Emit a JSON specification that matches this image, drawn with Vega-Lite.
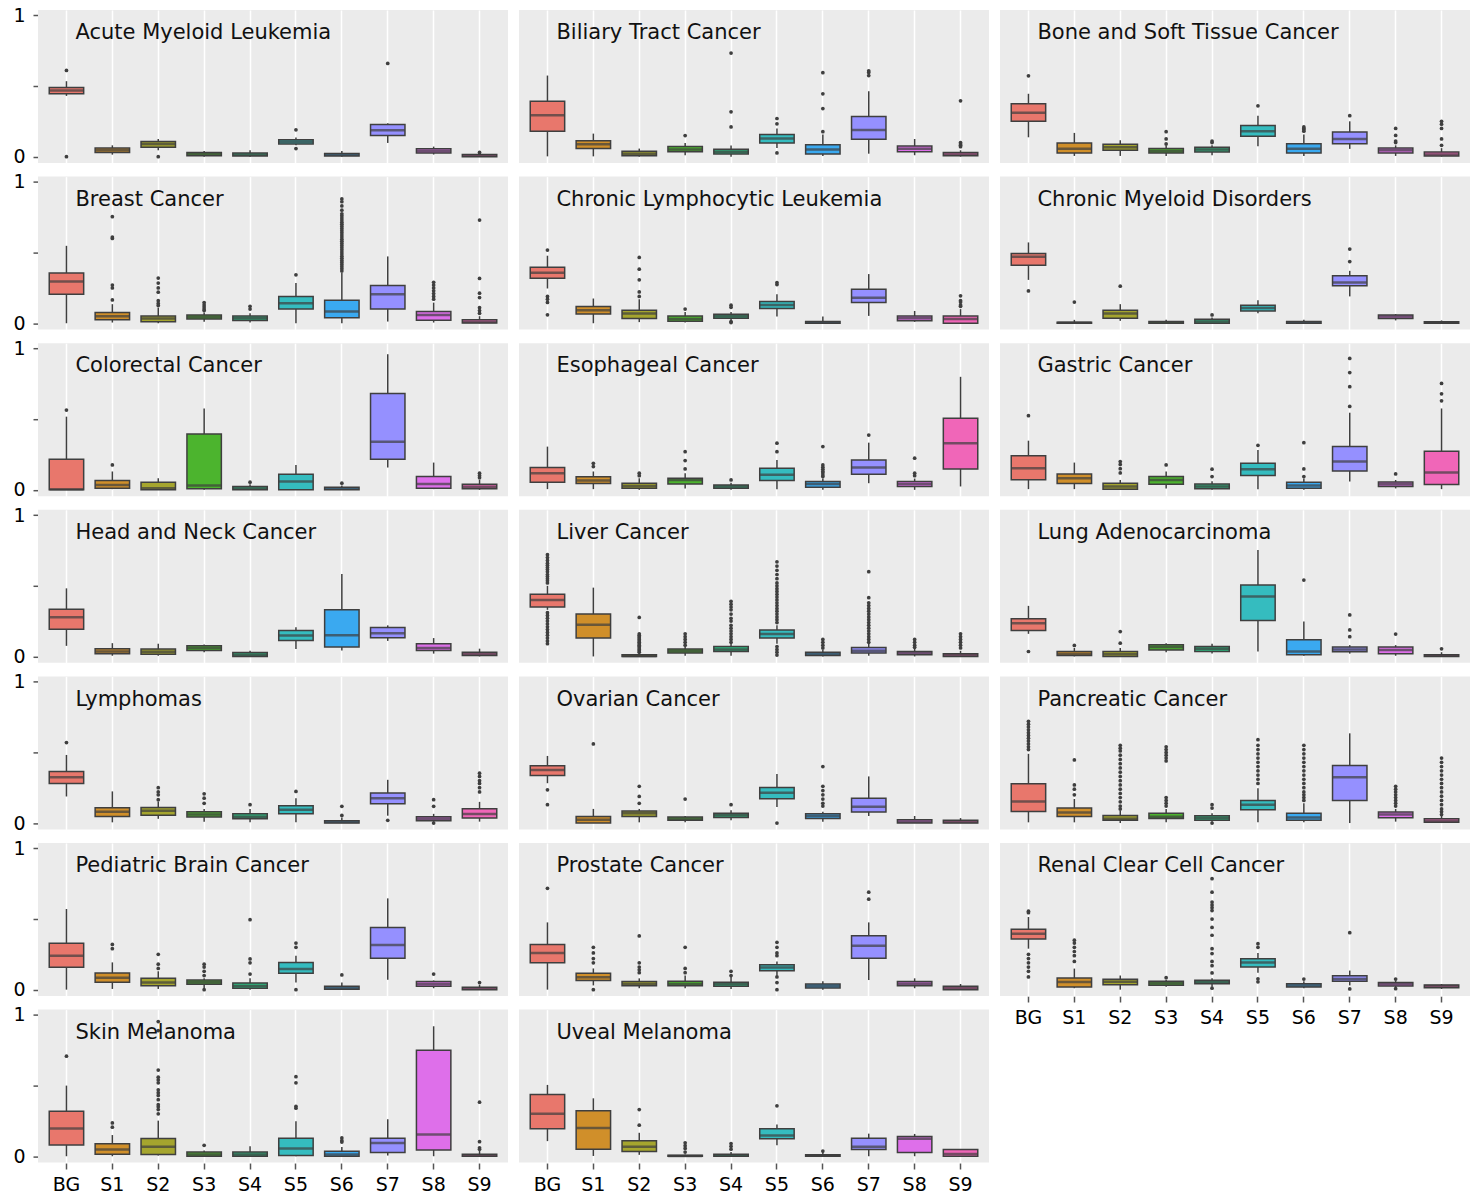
{
"$schema": "https://vega.github.io/schema/vega-lite/v6.json",
"padding": {"left": 12, "top": 6, "right": 4, "bottom": 4},
"config": {"font": "DejaVu Sans", "view": {"fill": "#EBEBEB", "stroke": null}},
"datasets": {
"names": [
{"c":"AML","n":"Acute Myeloid Leukemia"},{"c":"BTC","n":"Biliary Tract Cancer"},{"c":"BST","n":"Bone and Soft Tissue Cancer"},
{"c":"BRC","n":"Breast Cancer"},{"c":"CLL","n":"Chronic Lymphocytic Leukemia"},{"c":"CMD","n":"Chronic Myeloid Disorders"},
{"c":"CRC","n":"Colorectal Cancer"},{"c":"ESO","n":"Esophageal Cancer"},{"c":"GAS","n":"Gastric Cancer"},
{"c":"HNC","n":"Head and Neck Cancer"},{"c":"LIV","n":"Liver Cancer"},{"c":"LUA","n":"Lung Adenocarcinoma"},
{"c":"LYM","n":"Lymphomas"},{"c":"OV","n":"Ovarian Cancer"},{"c":"PAN","n":"Pancreatic Cancer"},
{"c":"PBC","n":"Pediatric Brain Cancer"},{"c":"PRO","n":"Prostate Cancer"},{"c":"RCC","n":"Renal Clear Cell Cancer"},
{"c":"SKM","n":"Skin Melanoma"},{"c":"UVM","n":"Uveal Melanoma"}
],
"main": [
{"c":"AML","g":"BG","lo":0.43,"q1":0.445,"md":0.468,"q3":0.49,"hi":0.534},
{"c":"AML","g":"S1","lo":0.014,"q1":0.03,"md":0.045,"q3":0.062,"hi":0.08},
{"c":"AML","g":"S2","lo":0.045,"q1":0.066,"md":0.09,"q3":0.108,"hi":0.125},
{"c":"AML","g":"S3","lo":0,"q1":0.007,"md":0.018,"q3":0.03,"hi":0.04},
{"c":"AML","g":"S4","lo":0,"q1":0.005,"md":0.013,"q3":0.026,"hi":0.045},
{"c":"AML","g":"S5","lo":0.08,"q1":0.09,"md":0.105,"q3":0.12,"hi":0.135},
{"c":"AML","g":"S6","lo":0,"q1":0.005,"md":0.014,"q3":0.023,"hi":0.04},
{"c":"AML","g":"S7","lo":0.097,"q1":0.149,"md":0.187,"q3":0.227,"hi":0.236},
{"c":"AML","g":"S8","lo":0.015,"q1":0.026,"md":0.04,"q3":0.055,"hi":0.071},
{"c":"AML","g":"S9","lo":0,"q1":0,"md":0.006,"q3":0.016,"hi":0.025},
{"c":"AML","g":"BG","v":0.61},{"c":"AML","g":"BG","v":0},{"c":"AML","g":"S2","v":0},{"c":"AML","g":"S5","v":0.19},{"c":"AML","g":"S5","v":0.057},{"c":"AML","g":"S7","v":0.66},{"c":"AML","g":"S9","v":0.03},

{"c":"BTC","g":"BG","lo":0.002,"q1":0.18,"md":0.293,"q3":0.392,"hi":0.574},
{"c":"BTC","g":"S1","lo":0.002,"q1":0.057,"md":0.087,"q3":0.113,"hi":0.163},
{"c":"BTC","g":"S2","lo":0,"q1":0.007,"md":0.02,"q3":0.038,"hi":0.057},
{"c":"BTC","g":"S3","lo":0.01,"q1":0.035,"md":0.05,"q3":0.071,"hi":0.097},
{"c":"BTC","g":"S4","lo":0,"q1":0.019,"md":0.035,"q3":0.052,"hi":0.078},
{"c":"BTC","g":"S5","lo":0.062,"q1":0.097,"md":0.128,"q3":0.156,"hi":0.2},
{"c":"BTC","g":"S6","lo":0.005,"q1":0.019,"md":0.05,"q3":0.085,"hi":0.156},
{"c":"BTC","g":"S7","lo":0.021,"q1":0.123,"md":0.189,"q3":0.284,"hi":0.463},
{"c":"BTC","g":"S8","lo":0.01,"q1":0.035,"md":0.055,"q3":0.076,"hi":0.125},
{"c":"BTC","g":"S9","lo":0,"q1":0.007,"md":0.015,"q3":0.03,"hi":0.045},
{"c":"BTC","g":"S3","v":0.149},{"c":"BTC","g":"S4","v":0.733},{"c":"BTC","g":"S4","v":0.317},{"c":"BTC","g":"S4","v":0.21},
{"c":"BTC","g":"S5","v":0.27},{"c":"BTC","g":"S5","v":0.232},{"c":"BTC","g":"S5","v":0.026},
{"c":"BTC","g":"S6","v":0.594},{"c":"BTC","g":"S6","v":0.445},{"c":"BTC","g":"S6","v":0.34},{"c":"BTC","g":"S6","v":0.177},
{"c":"BTC","g":"S7","v":0.608},{"c":"BTC","g":"S7","v":0.596},{"c":"BTC","g":"S7","v":0.574},
{"c":"BTC","g":"S9","v":0.395},{"c":"BTC","g":"S9","v":0.1},{"c":"BTC","g":"S9","v":0.09},{"c":"BTC","g":"S9","v":0.08},{"c":"BTC","g":"S9","v":0.07},

{"c":"BST","g":"BG","lo":0.137,"q1":0.25,"md":0.31,"q3":0.374,"hi":0.445},
{"c":"BST","g":"S1","lo":0.005,"q1":0.026,"md":0.055,"q3":0.097,"hi":0.168},
{"c":"BST","g":"S2","lo":0.005,"q1":0.045,"md":0.066,"q3":0.087,"hi":0.116},
{"c":"BST","g":"S3","lo":0.005,"q1":0.026,"md":0.04,"q3":0.057,"hi":0.08},
{"c":"BST","g":"S4","lo":0.01,"q1":0.033,"md":0.05,"q3":0.066,"hi":0.08},
{"c":"BST","g":"S5","lo":0.073,"q1":0.144,"md":0.18,"q3":0.22,"hi":0.29},
{"c":"BST","g":"S6","lo":0.005,"q1":0.026,"md":0.055,"q3":0.092,"hi":0.156},
{"c":"BST","g":"S7","lo":0.055,"q1":0.092,"md":0.125,"q3":0.175,"hi":0.25},
{"c":"BST","g":"S8","lo":0.005,"q1":0.026,"md":0.045,"q3":0.062,"hi":0.08},
{"c":"BST","g":"S9","lo":0,"q1":0.005,"md":0.015,"q3":0.033,"hi":0.06},
{"c":"BST","g":"BG","v":0.572},{"c":"BST","g":"S3","v":0.177},{"c":"BST","g":"S3","v":0.125},{"c":"BST","g":"S3","v":0.09},
{"c":"BST","g":"S4","v":0.11},{"c":"BST","g":"S4","v":0.1},{"c":"BST","g":"S5","v":0.36},
{"c":"BST","g":"S6","v":0.21},{"c":"BST","g":"S6","v":0.2},{"c":"BST","g":"S6","v":0.19},{"c":"BST","g":"S6","v":0.18},
{"c":"BST","g":"S7","v":0.29},{"c":"BST","g":"S8","v":0.2},{"c":"BST","g":"S8","v":0.15},{"c":"BST","g":"S8","v":0.11},{"c":"BST","g":"S8","v":0.1},
{"c":"BST","g":"S9","v":0.25},{"c":"BST","g":"S9","v":0.23},{"c":"BST","g":"S9","v":0.2},{"c":"BST","g":"S9","v":0.125},{"c":"BST","g":"S9","v":0.08},

{"c":"BRC","g":"BG","lo":0,"q1":0.206,"md":0.296,"q3":0.355,"hi":0.548},
{"c":"BRC","g":"S1","lo":0.005,"q1":0.024,"md":0.05,"q3":0.076,"hi":0.135},
{"c":"BRC","g":"S2","lo":0,"q1":0.01,"md":0.033,"q3":0.052,"hi":0.11},
{"c":"BRC","g":"S3","lo":0.01,"q1":0.03,"md":0.045,"q3":0.059,"hi":0.076},
{"c":"BRC","g":"S4","lo":0.005,"q1":0.019,"md":0.035,"q3":0.052,"hi":0.07},
{"c":"BRC","g":"S5","lo":0,"q1":0.1,"md":0.142,"q3":0.19,"hi":0.284},
{"c":"BRC","g":"S6","lo":0,"q1":0.038,"md":0.083,"q3":0.163,"hi":0.36},
{"c":"BRC","g":"S7","lo":0.012,"q1":0.1,"md":0.206,"q3":0.267,"hi":0.473},
{"c":"BRC","g":"S8","lo":0.005,"q1":0.021,"md":0.059,"q3":0.083,"hi":0.146},
{"c":"BRC","g":"S9","lo":0,"q1":0.002,"md":0.008,"q3":0.024,"hi":0.05},
{"c":"BRC","g":"S1","v":0.754},{"c":"BRC","g":"S1","v":0.61},{"c":"BRC","g":"S1","v":0.6},{"c":"BRC","g":"S1","v":0.27},{"c":"BRC","g":"S1","v":0.25},{"c":"BRC","g":"S1","v":0.165},
{"c":"BRC","g":"S2","v":0.32},{"c":"BRC","g":"S2","v":0.284},{"c":"BRC","g":"S2","v":0.25},{"c":"BRC","g":"S2","v":0.22},{"c":"BRC","g":"S2","v":0.16},{"c":"BRC","g":"S2","v":0.14},{"c":"BRC","g":"S2","v":0.125},
{"c":"BRC","g":"S3","v":0.146},{"c":"BRC","g":"S3","v":0.13},{"c":"BRC","g":"S3","v":0.115},{"c":"BRC","g":"S3","v":0.1},{"c":"BRC","g":"S3","v":0.09},
{"c":"BRC","g":"S4","v":0.12},{"c":"BRC","g":"S4","v":0.1},{"c":"BRC","g":"S5","v":0.343},
{"c":"BRC","g":"S6","v":0.37},{"c":"BRC","g":"S6","v":0.385},{"c":"BRC","g":"S6","v":0.4},{"c":"BRC","g":"S6","v":0.415},{"c":"BRC","g":"S6","v":0.43},{"c":"BRC","g":"S6","v":0.445},{"c":"BRC","g":"S6","v":0.46},{"c":"BRC","g":"S6","v":0.475},{"c":"BRC","g":"S6","v":0.49},{"c":"BRC","g":"S6","v":0.505},{"c":"BRC","g":"S6","v":0.52},{"c":"BRC","g":"S6","v":0.535},{"c":"BRC","g":"S6","v":0.55},{"c":"BRC","g":"S6","v":0.565},{"c":"BRC","g":"S6","v":0.58},{"c":"BRC","g":"S6","v":0.595},{"c":"BRC","g":"S6","v":0.61},{"c":"BRC","g":"S6","v":0.625},{"c":"BRC","g":"S6","v":0.64},{"c":"BRC","g":"S6","v":0.655},{"c":"BRC","g":"S6","v":0.67},{"c":"BRC","g":"S6","v":0.685},{"c":"BRC","g":"S6","v":0.7},{"c":"BRC","g":"S6","v":0.715},{"c":"BRC","g":"S6","v":0.73},{"c":"BRC","g":"S6","v":0.745},{"c":"BRC","g":"S6","v":0.76},{"c":"BRC","g":"S6","v":0.775},{"c":"BRC","g":"S6","v":0.8},{"c":"BRC","g":"S6","v":0.83},{"c":"BRC","g":"S6","v":0.86},{"c":"BRC","g":"S6","v":0.88},
{"c":"BRC","g":"S8","v":0.29},{"c":"BRC","g":"S8","v":0.27},{"c":"BRC","g":"S8","v":0.25},{"c":"BRC","g":"S8","v":0.23},{"c":"BRC","g":"S8","v":0.21},{"c":"BRC","g":"S8","v":0.19},{"c":"BRC","g":"S8","v":0.17},
{"c":"BRC","g":"S9","v":0.73},{"c":"BRC","g":"S9","v":0.317},{"c":"BRC","g":"S9","v":0.213},{"c":"BRC","g":"S9","v":0.182},{"c":"BRC","g":"S9","v":0.11},{"c":"BRC","g":"S9","v":0.09},{"c":"BRC","g":"S9","v":0.07},

{"c":"CLL","g":"BG","lo":0.246,"q1":0.319,"md":0.357,"q3":0.397,"hi":0.478},
{"c":"CLL","g":"S1","lo":0,"q1":0.066,"md":0.092,"q3":0.118,"hi":0.175},
{"c":"CLL","g":"S2","lo":0.008,"q1":0.033,"md":0.069,"q3":0.092,"hi":0.17},
{"c":"CLL","g":"S3","lo":0.005,"q1":0.014,"md":0.03,"q3":0.052,"hi":0.08},
{"c":"CLL","g":"S4","lo":0.02,"q1":0.035,"md":0.05,"q3":0.064,"hi":0.08},
{"c":"CLL","g":"S5","lo":0.047,"q1":0.104,"md":0.13,"q3":0.154,"hi":0.206},
{"c":"CLL","g":"S6","lo":0,"q1":0,"md":0.003,"q3":0.012,"hi":0.047},
{"c":"CLL","g":"S7","lo":0.052,"q1":0.147,"md":0.18,"q3":0.241,"hi":0.348},
{"c":"CLL","g":"S8","lo":0.01,"q1":0.017,"md":0.035,"q3":0.052,"hi":0.087},
{"c":"CLL","g":"S9","lo":0,"q1":0,"md":0.03,"q3":0.052,"hi":0.1},
{"c":"CLL","g":"BG","v":0.518},{"c":"CLL","g":"BG","v":0.19},{"c":"CLL","g":"BG","v":0.17},{"c":"CLL","g":"BG","v":0.147},{"c":"CLL","g":"BG","v":0.06},
{"c":"CLL","g":"S2","v":0.466},{"c":"CLL","g":"S2","v":0.383},{"c":"CLL","g":"S2","v":0.307},{"c":"CLL","g":"S2","v":0.222},{"c":"CLL","g":"S2","v":0.19},
{"c":"CLL","g":"S3","v":0.1},{"c":"CLL","g":"S4","v":0.128},{"c":"CLL","g":"S4","v":0.113},{"c":"CLL","g":"S4","v":0.012},{"c":"CLL","g":"S4","v":0.005},
{"c":"CLL","g":"S5","v":0.288},{"c":"CLL","g":"S5","v":0.274},
{"c":"CLL","g":"S9","v":0.194},{"c":"CLL","g":"S9","v":0.16},{"c":"CLL","g":"S9","v":0.15},{"c":"CLL","g":"S9","v":0.13},{"c":"CLL","g":"S9","v":0.12},

{"c":"CMD","g":"BG","lo":0.307,"q1":0.411,"md":0.47,"q3":0.494,"hi":0.572},
{"c":"CMD","g":"S1","lo":0,"q1":0,"md":0.003,"q3":0.007,"hi":0.024},
{"c":"CMD","g":"S2","lo":0.017,"q1":0.035,"md":0.069,"q3":0.092,"hi":0.135},
{"c":"CMD","g":"S3","lo":0,"q1":0,"md":0.005,"q3":0.012,"hi":0.025},
{"c":"CMD","g":"S4","lo":0,"q1":0,"md":0.012,"q3":0.028,"hi":0.04},
{"c":"CMD","g":"S5","lo":0.07,"q1":0.087,"md":0.108,"q3":0.128,"hi":0.163},
{"c":"CMD","g":"S6","lo":0,"q1":0,"md":0.005,"q3":0.012,"hi":0.025},
{"c":"CMD","g":"S7","lo":0.19,"q1":0.265,"md":0.288,"q3":0.336,"hi":0.371},
{"c":"CMD","g":"S8","lo":0.02,"q1":0.033,"md":0.047,"q3":0.059,"hi":0.065},
{"c":"CMD","g":"S9","lo":0,"q1":0,"md":0.004,"q3":0.01,"hi":0.02},
{"c":"CMD","g":"BG","v":0.229},{"c":"CMD","g":"S1","v":0.15},{"c":"CMD","g":"S2","v":0.262},{"c":"CMD","g":"S4","v":0.059},{"c":"CMD","g":"S7","v":0.525},{"c":"CMD","g":"S7","v":0.437},

{"c":"CRC","g":"BG","lo":0,"q1":0,"md":0.005,"q3":0.216,"hi":0.518},
{"c":"CRC","g":"S1","lo":0.005,"q1":0.012,"md":0.035,"q3":0.066,"hi":0.13},
{"c":"CRC","g":"S2","lo":0,"q1":0,"md":0.012,"q3":0.054,"hi":0.082},
{"c":"CRC","g":"S3","lo":0,"q1":0.007,"md":0.03,"q3":0.395,"hi":0.576},
{"c":"CRC","g":"S4","lo":0,"q1":0,"md":0.01,"q3":0.024,"hi":0.04},
{"c":"CRC","g":"S5","lo":0,"q1":0,"md":0.059,"q3":0.11,"hi":0.176},
{"c":"CRC","g":"S6","lo":0,"q1":0,"md":0.008,"q3":0.019,"hi":0.03},
{"c":"CRC","g":"S7","lo":0.158,"q1":0.216,"md":0.341,"q3":0.682,"hi":0.96},
{"c":"CRC","g":"S8","lo":0.005,"q1":0.012,"md":0.042,"q3":0.094,"hi":0.193},
{"c":"CRC","g":"S9","lo":0,"q1":0.007,"md":0.022,"q3":0.04,"hi":0.07},
{"c":"CRC","g":"BG","v":0.565},{"c":"CRC","g":"S1","v":0.176},{"c":"CRC","g":"S4","v":0.054},{"c":"CRC","g":"S6","v":0.047},
{"c":"CRC","g":"S9","v":0.118},{"c":"CRC","g":"S9","v":0.1},{"c":"CRC","g":"S9","v":0.085},

{"c":"ESO","g":"BG","lo":0.005,"q1":0.054,"md":0.118,"q3":0.158,"hi":0.306},
{"c":"ESO","g":"S1","lo":0.005,"q1":0.045,"md":0.066,"q3":0.092,"hi":0.13},
{"c":"ESO","g":"S2","lo":0,"q1":0.012,"md":0.028,"q3":0.047,"hi":0.082},
{"c":"ESO","g":"S3","lo":0.01,"q1":0.042,"md":0.07,"q3":0.082,"hi":0.118},
{"c":"ESO","g":"S4","lo":0,"q1":0.012,"md":0.024,"q3":0.035,"hi":0.05},
{"c":"ESO","g":"S5","lo":0.005,"q1":0.066,"md":0.106,"q3":0.153,"hi":0.212},
{"c":"ESO","g":"S6","lo":0,"q1":0.019,"md":0.042,"q3":0.059,"hi":0.08},
{"c":"ESO","g":"S7","lo":0.047,"q1":0.11,"md":0.158,"q3":0.212,"hi":0.334},
{"c":"ESO","g":"S8","lo":0,"q1":0.024,"md":0.042,"q3":0.059,"hi":0.08},
{"c":"ESO","g":"S9","lo":0.024,"q1":0.148,"md":0.33,"q3":0.506,"hi":0.8},
{"c":"ESO","g":"S1","v":0.188},{"c":"ESO","g":"S1","v":0.165},{"c":"ESO","g":"S2","v":0.118},{"c":"ESO","g":"S2","v":0.1},
{"c":"ESO","g":"S3","v":0.27},{"c":"ESO","g":"S3","v":0.207},{"c":"ESO","g":"S3","v":0.148},{"c":"ESO","g":"S4","v":0.07},
{"c":"ESO","g":"S5","v":0.33},{"c":"ESO","g":"S5","v":0.27},
{"c":"ESO","g":"S6","v":0.306},{"c":"ESO","g":"S6","v":0.176},{"c":"ESO","g":"S6","v":0.16},{"c":"ESO","g":"S6","v":0.145},{"c":"ESO","g":"S6","v":0.13},{"c":"ESO","g":"S6","v":0.12},{"c":"ESO","g":"S6","v":0.105},{"c":"ESO","g":"S6","v":0.094},
{"c":"ESO","g":"S7","v":0.388},{"c":"ESO","g":"S8","v":0.224},{"c":"ESO","g":"S8","v":0.118},{"c":"ESO","g":"S8","v":0.1},

{"c":"GAS","g":"BG","lo":0.005,"q1":0.071,"md":0.153,"q3":0.242,"hi":0.348},
{"c":"GAS","g":"S1","lo":0.005,"q1":0.045,"md":0.082,"q3":0.113,"hi":0.193},
{"c":"GAS","g":"S2","lo":0,"q1":0.005,"md":0.024,"q3":0.047,"hi":0.07},
{"c":"GAS","g":"S3","lo":0.01,"q1":0.04,"md":0.07,"q3":0.094,"hi":0.13},
{"c":"GAS","g":"S4","lo":0,"q1":0.007,"md":0.024,"q3":0.042,"hi":0.06},
{"c":"GAS","g":"S5","lo":0.005,"q1":0.101,"md":0.146,"q3":0.188,"hi":0.282},
{"c":"GAS","g":"S6","lo":0,"q1":0.012,"md":0.03,"q3":0.054,"hi":0.08},
{"c":"GAS","g":"S7","lo":0.059,"q1":0.134,"md":0.2,"q3":0.306,"hi":0.546},
{"c":"GAS","g":"S8","lo":0.01,"q1":0.024,"md":0.04,"q3":0.056,"hi":0.07},
{"c":"GAS","g":"S9","lo":0.005,"q1":0.038,"md":0.122,"q3":0.273,"hi":0.576},
{"c":"GAS","g":"BG","v":0.525},{"c":"GAS","g":"S2","v":0.2},{"c":"GAS","g":"S2","v":0.18},{"c":"GAS","g":"S2","v":0.15},{"c":"GAS","g":"S2","v":0.12},
{"c":"GAS","g":"S3","v":0.176},{"c":"GAS","g":"S4","v":0.146},{"c":"GAS","g":"S4","v":0.094},{"c":"GAS","g":"S5","v":0.315},
{"c":"GAS","g":"S6","v":0.334},{"c":"GAS","g":"S6","v":0.148},{"c":"GAS","g":"S6","v":0.094},
{"c":"GAS","g":"S7","v":0.93},{"c":"GAS","g":"S7","v":0.83},{"c":"GAS","g":"S7","v":0.73},{"c":"GAS","g":"S7","v":0.59},
{"c":"GAS","g":"S8","v":0.113},{"c":"GAS","g":"S9","v":0.753},{"c":"GAS","g":"S9","v":0.68},{"c":"GAS","g":"S9","v":0.63},

{"c":"HNC","g":"BG","lo":0.075,"q1":0.193,"md":0.278,"q3":0.334,"hi":0.482},
{"c":"HNC","g":"S1","lo":0.005,"q1":0.019,"md":0.035,"q3":0.054,"hi":0.094},
{"c":"HNC","g":"S2","lo":0.005,"q1":0.016,"md":0.033,"q3":0.052,"hi":0.09},
{"c":"HNC","g":"S3","lo":0.03,"q1":0.042,"md":0.06,"q3":0.075,"hi":0.085},
{"c":"HNC","g":"S4","lo":0,"q1":0,"md":0.012,"q3":0.028,"hi":0.04},
{"c":"HNC","g":"S5","lo":0.052,"q1":0.113,"md":0.148,"q3":0.184,"hi":0.207},
{"c":"HNC","g":"S6","lo":0.042,"q1":0.066,"md":0.15,"q3":0.33,"hi":0.584},
{"c":"HNC","g":"S7","lo":0.11,"q1":0.132,"md":0.165,"q3":0.205,"hi":0.22},
{"c":"HNC","g":"S8","lo":0.02,"q1":0.042,"md":0.059,"q3":0.089,"hi":0.13},
{"c":"HNC","g":"S9","lo":0,"q1":0.007,"md":0.018,"q3":0.03,"hi":0.055},

{"c":"LIV","g":"BG","lo":0.33,"q1":0.35,"md":0.4,"q3":0.44,"hi":0.5},
{"c":"LIV","g":"S1","lo":0,"q1":0.13,"md":0.224,"q3":0.3,"hi":0.487},
{"c":"LIV","g":"S2","lo":0,"q1":0,"md":0.003,"q3":0.012,"hi":0.025},
{"c":"LIV","g":"S3","lo":0.005,"q1":0.024,"md":0.038,"q3":0.052,"hi":0.07},
{"c":"LIV","g":"S4","lo":0.005,"q1":0.035,"md":0.05,"q3":0.07,"hi":0.09},
{"c":"LIV","g":"S5","lo":0.09,"q1":0.13,"md":0.158,"q3":0.188,"hi":0.22},
{"c":"LIV","g":"S6","lo":0,"q1":0.007,"md":0.018,"q3":0.03,"hi":0.05},
{"c":"LIV","g":"S7","lo":0.005,"q1":0.024,"md":0.04,"q3":0.064,"hi":0.09},
{"c":"LIV","g":"S8","lo":0,"q1":0.012,"md":0.024,"q3":0.035,"hi":0.06},
{"c":"LIV","g":"S9","lo":0,"q1":0,"md":0.01,"q3":0.019,"hi":0.04},
{"c":"LIV","g":"BG","v":0.52},{"c":"LIV","g":"BG","v":0.535},{"c":"LIV","g":"BG","v":0.55},{"c":"LIV","g":"BG","v":0.565},{"c":"LIV","g":"BG","v":0.58},{"c":"LIV","g":"BG","v":0.6},{"c":"LIV","g":"BG","v":0.615},{"c":"LIV","g":"BG","v":0.63},{"c":"LIV","g":"BG","v":0.645},{"c":"LIV","g":"BG","v":0.66},{"c":"LIV","g":"BG","v":0.68},{"c":"LIV","g":"BG","v":0.7},{"c":"LIV","g":"BG","v":0.72},
{"c":"LIV","g":"BG","v":0.31},{"c":"LIV","g":"BG","v":0.29},{"c":"LIV","g":"BG","v":0.27},{"c":"LIV","g":"BG","v":0.25},{"c":"LIV","g":"BG","v":0.23},{"c":"LIV","g":"BG","v":0.21},{"c":"LIV","g":"BG","v":0.19},{"c":"LIV","g":"BG","v":0.17},{"c":"LIV","g":"BG","v":0.15},{"c":"LIV","g":"BG","v":0.13},{"c":"LIV","g":"BG","v":0.11},{"c":"LIV","g":"BG","v":0.09},
{"c":"LIV","g":"S2","v":0.276},{"c":"LIV","g":"S2","v":0.16},{"c":"LIV","g":"S2","v":0.15},{"c":"LIV","g":"S2","v":0.14},{"c":"LIV","g":"S2","v":0.13},{"c":"LIV","g":"S2","v":0.12},{"c":"LIV","g":"S2","v":0.11},{"c":"LIV","g":"S2","v":0.1},{"c":"LIV","g":"S2","v":0.09},{"c":"LIV","g":"S2","v":0.08},{"c":"LIV","g":"S2","v":0.07},{"c":"LIV","g":"S2","v":0.06},{"c":"LIV","g":"S2","v":0.05},{"c":"LIV","g":"S2","v":0.04},{"c":"LIV","g":"S2","v":0.03},
{"c":"LIV","g":"S3","v":0.16},{"c":"LIV","g":"S3","v":0.14},{"c":"LIV","g":"S3","v":0.12},{"c":"LIV","g":"S3","v":0.1},{"c":"LIV","g":"S3","v":0.08},
{"c":"LIV","g":"S4","v":0.39},{"c":"LIV","g":"S4","v":0.37},{"c":"LIV","g":"S4","v":0.35},{"c":"LIV","g":"S4","v":0.33},{"c":"LIV","g":"S4","v":0.3},{"c":"LIV","g":"S4","v":0.27},{"c":"LIV","g":"S4","v":0.25},{"c":"LIV","g":"S4","v":0.22},{"c":"LIV","g":"S4","v":0.2},{"c":"LIV","g":"S4","v":0.18},{"c":"LIV","g":"S4","v":0.16},{"c":"LIV","g":"S4","v":0.14},{"c":"LIV","g":"S4","v":0.12},{"c":"LIV","g":"S4","v":0.1},
{"c":"LIV","g":"S5","v":0.67},{"c":"LIV","g":"S5","v":0.64},{"c":"LIV","g":"S5","v":0.61},{"c":"LIV","g":"S5","v":0.58},{"c":"LIV","g":"S5","v":0.55},{"c":"LIV","g":"S5","v":0.52},{"c":"LIV","g":"S5","v":0.5},{"c":"LIV","g":"S5","v":0.48},{"c":"LIV","g":"S5","v":0.46},{"c":"LIV","g":"S5","v":0.44},{"c":"LIV","g":"S5","v":0.42},{"c":"LIV","g":"S5","v":0.4},{"c":"LIV","g":"S5","v":0.38},{"c":"LIV","g":"S5","v":0.36},{"c":"LIV","g":"S5","v":0.34},{"c":"LIV","g":"S5","v":0.32},{"c":"LIV","g":"S5","v":0.3},{"c":"LIV","g":"S5","v":0.28},{"c":"LIV","g":"S5","v":0.26},{"c":"LIV","g":"S5","v":0.24},{"c":"LIV","g":"S5","v":0.07},{"c":"LIV","g":"S5","v":0.05},{"c":"LIV","g":"S5","v":0.03},{"c":"LIV","g":"S5","v":0.01},
{"c":"LIV","g":"S6","v":0.12},{"c":"LIV","g":"S6","v":0.1},{"c":"LIV","g":"S6","v":0.08},{"c":"LIV","g":"S6","v":0.06},
{"c":"LIV","g":"S7","v":0.6},{"c":"LIV","g":"S7","v":0.416},{"c":"LIV","g":"S7","v":0.38},{"c":"LIV","g":"S7","v":0.36},{"c":"LIV","g":"S7","v":0.34},{"c":"LIV","g":"S7","v":0.32},{"c":"LIV","g":"S7","v":0.3},{"c":"LIV","g":"S7","v":0.28},{"c":"LIV","g":"S7","v":0.26},{"c":"LIV","g":"S7","v":0.24},{"c":"LIV","g":"S7","v":0.22},{"c":"LIV","g":"S7","v":0.2},{"c":"LIV","g":"S7","v":0.18},{"c":"LIV","g":"S7","v":0.16},{"c":"LIV","g":"S7","v":0.14},{"c":"LIV","g":"S7","v":0.12},{"c":"LIV","g":"S7","v":0.1},
{"c":"LIV","g":"S8","v":0.12},{"c":"LIV","g":"S8","v":0.1},{"c":"LIV","g":"S8","v":0.08},{"c":"LIV","g":"S8","v":0.065},
{"c":"LIV","g":"S9","v":0.16},{"c":"LIV","g":"S9","v":0.14},{"c":"LIV","g":"S9","v":0.12},{"c":"LIV","g":"S9","v":0.1},{"c":"LIV","g":"S9","v":0.08},{"c":"LIV","g":"S9","v":0.06},

{"c":"LUA","g":"BG","lo":0.16,"q1":0.184,"md":0.235,"q3":0.266,"hi":0.358},
{"c":"LUA","g":"S1","lo":0,"q1":0.007,"md":0.018,"q3":0.035,"hi":0.06},
{"c":"LUA","g":"S2","lo":0,"q1":0,"md":0.015,"q3":0.035,"hi":0.06},
{"c":"LUA","g":"S3","lo":0.03,"q1":0.045,"md":0.066,"q3":0.082,"hi":0.094},
{"c":"LUA","g":"S4","lo":0.02,"q1":0.035,"md":0.055,"q3":0.07,"hi":0.09},
{"c":"LUA","g":"S5","lo":0.035,"q1":0.254,"md":0.424,"q3":0.506,"hi":0.753},
{"c":"LUA","g":"S6","lo":0.005,"q1":0.012,"md":0.035,"q3":0.118,"hi":0.247},
{"c":"LUA","g":"S7","lo":0.02,"q1":0.033,"md":0.05,"q3":0.066,"hi":0.08},
{"c":"LUA","g":"S8","lo":0.005,"q1":0.019,"md":0.045,"q3":0.066,"hi":0.08},
{"c":"LUA","g":"S9","lo":0,"q1":0,"md":0.005,"q3":0.012,"hi":0.03},
{"c":"LUA","g":"BG","v":0.035},{"c":"LUA","g":"S1","v":0.078},{"c":"LUA","g":"S2","v":0.176},{"c":"LUA","g":"S2","v":0.094},{"c":"LUA","g":"S6","v":0.541},
{"c":"LUA","g":"S7","v":0.294},{"c":"LUA","g":"S7","v":0.188},{"c":"LUA","g":"S7","v":0.14},{"c":"LUA","g":"S8","v":0.158},{"c":"LUA","g":"S9","v":0.054},

{"c":"LYM","g":"BG","lo":0.188,"q1":0.28,"md":0.325,"q3":0.365,"hi":0.482},
{"c":"LYM","g":"S1","lo":0.005,"q1":0.047,"md":0.08,"q3":0.108,"hi":0.224},
{"c":"LYM","g":"S2","lo":0.03,"q1":0.056,"md":0.087,"q3":0.11,"hi":0.153},
{"c":"LYM","g":"S3","lo":0.01,"q1":0.042,"md":0.06,"q3":0.08,"hi":0.1},
{"c":"LYM","g":"S4","lo":0.005,"q1":0.03,"md":0.045,"q3":0.066,"hi":0.1},
{"c":"LYM","g":"S5","lo":0.005,"q1":0.066,"md":0.094,"q3":0.122,"hi":0.176},
{"c":"LYM","g":"S6","lo":0,"q1":0,"md":0.008,"q3":0.016,"hi":0.04},
{"c":"LYM","g":"S7","lo":0.052,"q1":0.136,"md":0.176,"q3":0.212,"hi":0.306},
{"c":"LYM","g":"S8","lo":0.008,"q1":0.016,"md":0.03,"q3":0.045,"hi":0.065},
{"c":"LYM","g":"S9","lo":0.01,"q1":0.035,"md":0.064,"q3":0.101,"hi":0.15},
{"c":"LYM","g":"BG","v":0.57},{"c":"LYM","g":"S2","v":0.25},{"c":"LYM","g":"S2","v":0.22},{"c":"LYM","g":"S2","v":0.2},{"c":"LYM","g":"S2","v":0.165},
{"c":"LYM","g":"S3","v":0.207},{"c":"LYM","g":"S3","v":0.176},{"c":"LYM","g":"S3","v":0.14},{"c":"LYM","g":"S4","v":0.13},{"c":"LYM","g":"S5","v":0.224},
{"c":"LYM","g":"S6","v":0.118},{"c":"LYM","g":"S6","v":0.054},{"c":"LYM","g":"S7","v":0.019},
{"c":"LYM","g":"S8","v":0.165},{"c":"LYM","g":"S8","v":0.118},{"c":"LYM","g":"S8","v":0},
{"c":"LYM","g":"S9","v":0.353},{"c":"LYM","g":"S9","v":0.33},{"c":"LYM","g":"S9","v":0.3},{"c":"LYM","g":"S9","v":0.28},{"c":"LYM","g":"S9","v":0.25},{"c":"LYM","g":"S9","v":0.22},

{"c":"OV","g":"BG","lo":0.282,"q1":0.336,"md":0.376,"q3":0.405,"hi":0.475},
{"c":"OV","g":"S1","lo":0,"q1":0,"md":0.024,"q3":0.047,"hi":0.1},
{"c":"OV","g":"S2","lo":0.005,"q1":0.047,"md":0.07,"q3":0.085,"hi":0.1},
{"c":"OV","g":"S3","lo":0.005,"q1":0.019,"md":0.03,"q3":0.042,"hi":0.05},
{"c":"OV","g":"S4","lo":0.02,"q1":0.04,"md":0.055,"q3":0.07,"hi":0.09},
{"c":"OV","g":"S5","lo":0.113,"q1":0.172,"md":0.214,"q3":0.252,"hi":0.348},
{"c":"OV","g":"S6","lo":0.01,"q1":0.033,"md":0.05,"q3":0.066,"hi":0.08},
{"c":"OV","g":"S7","lo":0.05,"q1":0.078,"md":0.115,"q3":0.176,"hi":0.33},
{"c":"OV","g":"S8","lo":0,"q1":0,"md":0.01,"q3":0.024,"hi":0.05},
{"c":"OV","g":"S9","lo":0,"q1":0,"md":0.008,"q3":0.019,"hi":0.035},
{"c":"OV","g":"BG","v":0.235},{"c":"OV","g":"BG","v":0.13},{"c":"OV","g":"S1","v":0.56},{"c":"OV","g":"S2","v":0.26},{"c":"OV","g":"S2","v":0.188},{"c":"OV","g":"S2","v":0.14},
{"c":"OV","g":"S3","v":0.17},{"c":"OV","g":"S4","v":0.13},{"c":"OV","g":"S5","v":0},
{"c":"OV","g":"S6","v":0.4},{"c":"OV","g":"S6","v":0.26},{"c":"OV","g":"S6","v":0.23},{"c":"OV","g":"S6","v":0.2},{"c":"OV","g":"S6","v":0.17},{"c":"OV","g":"S6","v":0.14},{"c":"OV","g":"S6","v":0.12},

{"c":"PAN","g":"BG","lo":0.005,"q1":0.082,"md":0.153,"q3":0.278,"hi":0.49},
{"c":"PAN","g":"S1","lo":0.005,"q1":0.047,"md":0.075,"q3":0.106,"hi":0.17},
{"c":"PAN","g":"S2","lo":0,"q1":0.019,"md":0.03,"q3":0.054,"hi":0.09},
{"c":"PAN","g":"S3","lo":0.005,"q1":0.033,"md":0.045,"q3":0.07,"hi":0.1},
{"c":"PAN","g":"S4","lo":0.01,"q1":0.019,"md":0.035,"q3":0.052,"hi":0.07},
{"c":"PAN","g":"S5","lo":0.005,"q1":0.094,"md":0.13,"q3":0.16,"hi":0.247},
{"c":"PAN","g":"S6","lo":0.005,"q1":0.019,"md":0.04,"q3":0.07,"hi":0.14},
{"c":"PAN","g":"S7","lo":0,"q1":0.16,"md":0.325,"q3":0.407,"hi":0.635},
{"c":"PAN","g":"S8","lo":0.01,"q1":0.038,"md":0.06,"q3":0.078,"hi":0.1},
{"c":"PAN","g":"S9","lo":0,"q1":0.005,"md":0.015,"q3":0.03,"hi":0.05},
{"c":"PAN","g":"BG","v":0.52},{"c":"PAN","g":"BG","v":0.54},{"c":"PAN","g":"BG","v":0.56},{"c":"PAN","g":"BG","v":0.58},{"c":"PAN","g":"BG","v":0.6},{"c":"PAN","g":"BG","v":0.62},{"c":"PAN","g":"BG","v":0.64},{"c":"PAN","g":"BG","v":0.66},{"c":"PAN","g":"BG","v":0.68},{"c":"PAN","g":"BG","v":0.7},{"c":"PAN","g":"BG","v":0.72},
{"c":"PAN","g":"S1","v":0.447},{"c":"PAN","g":"S1","v":0.27},{"c":"PAN","g":"S1","v":0.24},{"c":"PAN","g":"S1","v":0.2},
{"c":"PAN","g":"S2","v":0.55},{"c":"PAN","g":"S2","v":0.53},{"c":"PAN","g":"S2","v":0.51},{"c":"PAN","g":"S2","v":0.48},{"c":"PAN","g":"S2","v":0.45},{"c":"PAN","g":"S2","v":0.42},{"c":"PAN","g":"S2","v":0.39},{"c":"PAN","g":"S2","v":0.36},{"c":"PAN","g":"S2","v":0.33},{"c":"PAN","g":"S2","v":0.3},{"c":"PAN","g":"S2","v":0.27},{"c":"PAN","g":"S2","v":0.24},{"c":"PAN","g":"S2","v":0.21},{"c":"PAN","g":"S2","v":0.18},{"c":"PAN","g":"S2","v":0.15},{"c":"PAN","g":"S2","v":0.12},{"c":"PAN","g":"S2","v":0.1},
{"c":"PAN","g":"S3","v":0.54},{"c":"PAN","g":"S3","v":0.52},{"c":"PAN","g":"S3","v":0.5},{"c":"PAN","g":"S3","v":0.48},{"c":"PAN","g":"S3","v":0.46},{"c":"PAN","g":"S3","v":0.44},{"c":"PAN","g":"S3","v":0.18},{"c":"PAN","g":"S3","v":0.16},{"c":"PAN","g":"S3","v":0.14},{"c":"PAN","g":"S3","v":0.12},
{"c":"PAN","g":"S4","v":0.13},{"c":"PAN","g":"S4","v":0.106},{"c":"PAN","g":"S4","v":0},
{"c":"PAN","g":"S5","v":0.59},{"c":"PAN","g":"S5","v":0.55},{"c":"PAN","g":"S5","v":0.52},{"c":"PAN","g":"S5","v":0.49},{"c":"PAN","g":"S5","v":0.46},{"c":"PAN","g":"S5","v":0.43},{"c":"PAN","g":"S5","v":0.4},{"c":"PAN","g":"S5","v":0.37},{"c":"PAN","g":"S5","v":0.34},{"c":"PAN","g":"S5","v":0.31},{"c":"PAN","g":"S5","v":0.28},
{"c":"PAN","g":"S6","v":0.55},{"c":"PAN","g":"S6","v":0.52},{"c":"PAN","g":"S6","v":0.49},{"c":"PAN","g":"S6","v":0.46},{"c":"PAN","g":"S6","v":0.43},{"c":"PAN","g":"S6","v":0.4},{"c":"PAN","g":"S6","v":0.37},{"c":"PAN","g":"S6","v":0.34},{"c":"PAN","g":"S6","v":0.31},{"c":"PAN","g":"S6","v":0.28},{"c":"PAN","g":"S6","v":0.25},{"c":"PAN","g":"S6","v":0.22},{"c":"PAN","g":"S6","v":0.2},{"c":"PAN","g":"S6","v":0.18},{"c":"PAN","g":"S6","v":0.16},
{"c":"PAN","g":"S8","v":0.26},{"c":"PAN","g":"S8","v":0.24},{"c":"PAN","g":"S8","v":0.22},{"c":"PAN","g":"S8","v":0.2},{"c":"PAN","g":"S8","v":0.18},{"c":"PAN","g":"S8","v":0.16},{"c":"PAN","g":"S8","v":0.14},{"c":"PAN","g":"S8","v":0.12},
{"c":"PAN","g":"S9","v":0.46},{"c":"PAN","g":"S9","v":0.43},{"c":"PAN","g":"S9","v":0.4},{"c":"PAN","g":"S9","v":0.37},{"c":"PAN","g":"S9","v":0.34},{"c":"PAN","g":"S9","v":0.31},{"c":"PAN","g":"S9","v":0.28},{"c":"PAN","g":"S9","v":0.25},{"c":"PAN","g":"S9","v":0.22},{"c":"PAN","g":"S9","v":0.19},{"c":"PAN","g":"S9","v":0.16},{"c":"PAN","g":"S9","v":0.13},{"c":"PAN","g":"S9","v":0.1},{"c":"PAN","g":"S9","v":0.08},{"c":"PAN","g":"S9","v":0.06},

{"c":"PBC","g":"BG","lo":0,"q1":0.158,"md":0.24,"q3":0.328,"hi":0.571},
{"c":"PBC","g":"S1","lo":0.005,"q1":0.052,"md":0.085,"q3":0.118,"hi":0.193},
{"c":"PBC","g":"S2","lo":0.005,"q1":0.028,"md":0.05,"q3":0.08,"hi":0.13},
{"c":"PBC","g":"S3","lo":0.01,"q1":0.038,"md":0.052,"q3":0.068,"hi":0.08},
{"c":"PBC","g":"S4","lo":0,"q1":0.009,"md":0.025,"q3":0.047,"hi":0.08},
{"c":"PBC","g":"S5","lo":0.05,"q1":0.116,"md":0.146,"q3":0.193,"hi":0.24},
{"c":"PBC","g":"S6","lo":0,"q1":0.002,"md":0.012,"q3":0.024,"hi":0.05},
{"c":"PBC","g":"S7","lo":0.07,"q1":0.222,"md":0.316,"q3":0.44,"hi":0.646},
{"c":"PBC","g":"S8","lo":0.01,"q1":0.024,"md":0.04,"q3":0.057,"hi":0.065},
{"c":"PBC","g":"S9","lo":0,"q1":0,"md":0.008,"q3":0.017,"hi":0.035},
{"c":"PBC","g":"S1","v":0.32},{"c":"PBC","g":"S1","v":0.29},{"c":"PBC","g":"S2","v":0.25},{"c":"PBC","g":"S2","v":0.18},{"c":"PBC","g":"S2","v":0.15},
{"c":"PBC","g":"S3","v":0.18},{"c":"PBC","g":"S3","v":0.16},{"c":"PBC","g":"S3","v":0.13},{"c":"PBC","g":"S3","v":0.1},{"c":"PBC","g":"S3","v":0},
{"c":"PBC","g":"S4","v":0.495},{"c":"PBC","g":"S4","v":0.217},{"c":"PBC","g":"S4","v":0.19},{"c":"PBC","g":"S4","v":0.11},
{"c":"PBC","g":"S5","v":0.33},{"c":"PBC","g":"S5","v":0.3},{"c":"PBC","g":"S5","v":0},{"c":"PBC","g":"S6","v":0.104},{"c":"PBC","g":"S8","v":0.11},{"c":"PBC","g":"S9","v":0.05},

{"c":"PRO","g":"BG","lo":0,"q1":0.19,"md":0.26,"q3":0.32,"hi":0.476},
{"c":"PRO","g":"S1","lo":0.03,"q1":0.064,"md":0.087,"q3":0.116,"hi":0.15},
{"c":"PRO","g":"S2","lo":0.01,"q1":0.028,"md":0.04,"q3":0.057,"hi":0.08},
{"c":"PRO","g":"S3","lo":0.01,"q1":0.028,"md":0.04,"q3":0.059,"hi":0.1},
{"c":"PRO","g":"S4","lo":0.005,"q1":0.024,"md":0.04,"q3":0.052,"hi":0.09},
{"c":"PRO","g":"S5","lo":0.1,"q1":0.134,"md":0.156,"q3":0.177,"hi":0.2},
{"c":"PRO","g":"S6","lo":0,"q1":0.012,"md":0.026,"q3":0.04,"hi":0.06},
{"c":"PRO","g":"S7","lo":0.068,"q1":0.222,"md":0.311,"q3":0.382,"hi":0.476},
{"c":"PRO","g":"S8","lo":0.01,"q1":0.028,"md":0.042,"q3":0.057,"hi":0.08},
{"c":"PRO","g":"S9","lo":0,"q1":0,"md":0.01,"q3":0.024,"hi":0.04},
{"c":"PRO","g":"BG","v":0.717},{"c":"PRO","g":"S1","v":0.3},{"c":"PRO","g":"S1","v":0.26},{"c":"PRO","g":"S1","v":0.22},{"c":"PRO","g":"S1","v":0.19},{"c":"PRO","g":"S1","v":0},
{"c":"PRO","g":"S2","v":0.38},{"c":"PRO","g":"S2","v":0.19},{"c":"PRO","g":"S2","v":0.16},{"c":"PRO","g":"S2","v":0.14},{"c":"PRO","g":"S2","v":0.12},
{"c":"PRO","g":"S3","v":0.3},{"c":"PRO","g":"S3","v":0.15},{"c":"PRO","g":"S3","v":0.12},{"c":"PRO","g":"S4","v":0.13},{"c":"PRO","g":"S4","v":0.1},
{"c":"PRO","g":"S5","v":0.335},{"c":"PRO","g":"S5","v":0.3},{"c":"PRO","g":"S5","v":0.26},{"c":"PRO","g":"S5","v":0.24},{"c":"PRO","g":"S5","v":0.09},{"c":"PRO","g":"S5","v":0.05},{"c":"PRO","g":"S5","v":0},
{"c":"PRO","g":"S7","v":0.69},{"c":"PRO","g":"S7","v":0.64},

{"c":"RCC","g":"BG","lo":0.29,"q1":0.358,"md":0.396,"q3":0.427,"hi":0.514},
{"c":"RCC","g":"S1","lo":0.01,"q1":0.019,"md":0.054,"q3":0.083,"hi":0.149},
{"c":"RCC","g":"S2","lo":0,"q1":0.035,"md":0.055,"q3":0.073,"hi":0.1},
{"c":"RCC","g":"S3","lo":0.02,"q1":0.031,"md":0.045,"q3":0.059,"hi":0.07},
{"c":"RCC","g":"S4","lo":0.02,"q1":0.042,"md":0.052,"q3":0.066,"hi":0.08},
{"c":"RCC","g":"S5","lo":0.12,"q1":0.16,"md":0.193,"q3":0.219,"hi":0.26},
{"c":"RCC","g":"S6","lo":0.01,"q1":0.019,"md":0.03,"q3":0.042,"hi":0.06},
{"c":"RCC","g":"S7","lo":0.03,"q1":0.059,"md":0.075,"q3":0.099,"hi":0.135},
{"c":"RCC","g":"S8","lo":0.015,"q1":0.026,"md":0.04,"q3":0.05,"hi":0.065},
{"c":"RCC","g":"S9","lo":0.005,"q1":0.014,"md":0.025,"q3":0.033,"hi":0.04},
{"c":"RCC","g":"BG","v":0.555},{"c":"RCC","g":"BG","v":0.545},{"c":"RCC","g":"BG","v":0.25},{"c":"RCC","g":"BG","v":0.22},{"c":"RCC","g":"BG","v":0.19},{"c":"RCC","g":"BG","v":0.16},{"c":"RCC","g":"BG","v":0.13},{"c":"RCC","g":"BG","v":0.09},
{"c":"RCC","g":"S1","v":0.35},{"c":"RCC","g":"S1","v":0.33},{"c":"RCC","g":"S1","v":0.3},{"c":"RCC","g":"S1","v":0.27},{"c":"RCC","g":"S1","v":0.24},{"c":"RCC","g":"S1","v":0.2},
{"c":"RCC","g":"S3","v":0.085},
{"c":"RCC","g":"S4","v":0.785},{"c":"RCC","g":"S4","v":0.69},{"c":"RCC","g":"S4","v":0.62},{"c":"RCC","g":"S4","v":0.6},{"c":"RCC","g":"S4","v":0.58},{"c":"RCC","g":"S4","v":0.56},{"c":"RCC","g":"S4","v":0.5},{"c":"RCC","g":"S4","v":0.44},{"c":"RCC","g":"S4","v":0.385},{"c":"RCC","g":"S4","v":0.29},{"c":"RCC","g":"S4","v":0.255},{"c":"RCC","g":"S4","v":0.2},{"c":"RCC","g":"S4","v":0.17},{"c":"RCC","g":"S4","v":0.118},{"c":"RCC","g":"S4","v":0.01},
{"c":"RCC","g":"S5","v":0.325},{"c":"RCC","g":"S5","v":0.3},{"c":"RCC","g":"S5","v":0.077},{"c":"RCC","g":"S5","v":0.055},
{"c":"RCC","g":"S6","v":0.075},{"c":"RCC","g":"S7","v":0.403},{"c":"RCC","g":"S7","v":0.005},{"c":"RCC","g":"S8","v":0.075},{"c":"RCC","g":"S8","v":0.007},

{"c":"SKM","g":"BG","lo":0,"q1":0.079,"md":0.196,"q3":0.318,"hi":0.5},
{"c":"SKM","g":"S1","lo":0,"q1":0.014,"md":0.047,"q3":0.089,"hi":0.15},
{"c":"SKM","g":"S2","lo":0.005,"q1":0.012,"md":0.068,"q3":0.126,"hi":0.252},
{"c":"SKM","g":"S3","lo":0,"q1":0,"md":0.012,"q3":0.03,"hi":0.04},
{"c":"SKM","g":"S4","lo":0,"q1":0,"md":0.012,"q3":0.03,"hi":0.07},
{"c":"SKM","g":"S5","lo":0,"q1":0.005,"md":0.054,"q3":0.128,"hi":0.248},
{"c":"SKM","g":"S6","lo":0,"q1":0,"md":0.012,"q3":0.035,"hi":0.065},
{"c":"SKM","g":"S7","lo":0.005,"q1":0.026,"md":0.093,"q3":0.128,"hi":0.262},
{"c":"SKM","g":"S8","lo":0,"q1":0.044,"md":0.154,"q3":0.75,"hi":0.92},
{"c":"SKM","g":"S9","lo":0,"q1":0,"md":0.006,"q3":0.014,"hi":0.04},
{"c":"SKM","g":"BG","v":0.708},{"c":"SKM","g":"S1","v":0.236},{"c":"SKM","g":"S1","v":0.206},
{"c":"SKM","g":"S2","v":0.953},{"c":"SKM","g":"S2","v":0.89},{"c":"SKM","g":"S2","v":0.61},{"c":"SKM","g":"S2","v":0.56},{"c":"SKM","g":"S2","v":0.54},{"c":"SKM","g":"S2","v":0.52},{"c":"SKM","g":"S2","v":0.47},{"c":"SKM","g":"S2","v":0.45},{"c":"SKM","g":"S2","v":0.43},{"c":"SKM","g":"S2","v":0.4},{"c":"SKM","g":"S2","v":0.365},{"c":"SKM","g":"S2","v":0.35},{"c":"SKM","g":"S2","v":0.33},{"c":"SKM","g":"S2","v":0.3},
{"c":"SKM","g":"S3","v":0.077},{"c":"SKM","g":"S5","v":0.563},{"c":"SKM","g":"S5","v":0.52},{"c":"SKM","g":"S5","v":0.353},{"c":"SKM","g":"S5","v":0.34},
{"c":"SKM","g":"S6","v":0.13},{"c":"SKM","g":"S6","v":0.11},{"c":"SKM","g":"S6","v":0.1},
{"c":"SKM","g":"S9","v":0.383},{"c":"SKM","g":"S9","v":0.103},{"c":"SKM","g":"S9","v":0.06},{"c":"SKM","g":"S9","v":0.05},

{"c":"UVM","g":"BG","lo":0.107,"q1":0.194,"md":0.3,"q3":0.437,"hi":0.505},
{"c":"UVM","g":"S1","lo":0.002,"q1":0.049,"md":0.2,"q3":0.322,"hi":0.41},
{"c":"UVM","g":"S2","lo":0.01,"q1":0.033,"md":0.068,"q3":0.11,"hi":0.166},
{"c":"UVM","g":"S3","lo":0,"q1":0,"md":0.002,"q3":0.007,"hi":0.012},
{"c":"UVM","g":"S4","lo":0,"q1":0,"md":0.005,"q3":0.014,"hi":0.03},
{"c":"UVM","g":"S5","lo":0.077,"q1":0.124,"md":0.147,"q3":0.194,"hi":0.224},
{"c":"UVM","g":"S6","lo":0,"q1":0,"md":0.003,"q3":0.01,"hi":0.03},
{"c":"UVM","g":"S7","lo":0,"q1":0.047,"md":0.068,"q3":0.128,"hi":0.16},
{"c":"UVM","g":"S8","lo":0,"q1":0.026,"md":0.124,"q3":0.14,"hi":0.158},
{"c":"UVM","g":"S9","lo":0,"q1":0,"md":0.016,"q3":0.047,"hi":0.05},
{"c":"UVM","g":"S2","v":0.33},{"c":"UVM","g":"S2","v":0.22},
{"c":"UVM","g":"S3","v":0.095},{"c":"UVM","g":"S3","v":0.075},{"c":"UVM","g":"S3","v":0.055},{"c":"UVM","g":"S3","v":0.03},
{"c":"UVM","g":"S4","v":0.09},{"c":"UVM","g":"S4","v":0.07},{"c":"UVM","g":"S4","v":0.05},
{"c":"UVM","g":"S5","v":0.357},{"c":"UVM","g":"S6","v":0.037}
]
},
"data": {"name": "main"},
"spacing": 11,
"hconcat": [
{
"transform": [{"filter": "indexof(['AML','BRC','CRC','HNC','LYM','PBC','SKM'], datum.c) >= 0"}, {"lookup": "c", "from": {"data": {"name": "names"}, "key": "c", "fields": ["n"]}}],
"facet": {"row": {"field": "n", "type": "nominal", "header": null}},
"spacing": {"row": 13.6},
"spec": {
"width": 470, "height": 153,
"encoding": {"x": {"field": "g", "type": "nominal",
"scale": {"type": "band", "domain": ["BG","S1","S2","S3","S4","S5","S6","S7","S8","S9"], "paddingInner": 0.25, "paddingOuter": 0.245},
"axis": {"title": null, "labelAngle": 0, "labelFontSize": 19, "labelColor": "#000000", "tickColor": "#555555", "tickSize": 6, "tickWidth": 1.5, "domain": false, "grid": true, "gridColor": "#FFFFFF", "gridWidth": 1.5, "labelPadding": 6, "bandPosition": 0.5}}},
"layer": [
{"transform": [{"filter": "datum.v == null"}], "mark": {"type": "rule", "color": "#3F3F3F", "strokeWidth": 1.5},
"encoding": {"y": {"field": "lo", "type": "quantitative", "scale": {"domain": [-0.045, 1.038], "nice": false, "zero": false},
"axis": {"title": null, "values": [0, 0.25, 0.5, 0.75, 1], "labelExpr": "datum.value == 0 ? '0' : (datum.value == 1 ? '1' : '')", "grid": false, "domain": false, "tickColor": "#555555", "tickSize": 5, "tickWidth": 1.5, "labelFontSize": 19, "labelColor": "#000000", "labelPadding": 8}},
"y2": {"field": "hi"}}},
{"transform": [{"filter": "datum.v == null"}], "mark": {"type": "bar", "stroke": "#3F3F3F", "strokeWidth": 1.5},
"encoding": {"y": {"field": "q1", "type": "quantitative"}, "y2": {"field": "q3"},
"color": {"field": "g", "type": "nominal", "legend": null, "scale": {"domain": ["BG","S1","S2","S3","S4","S5","S6","S7","S8","S9"], "range": ["#E8776C","#D08F2A","#A5A52E","#4CB42E","#2DBA80","#35BCBF","#3AA9F0","#9590FF","#DE6FEA","#F066B8"]}}}},
{"transform": [{"filter": "datum.v == null"}], "mark": {"type": "tick", "color": "#3F3F3F", "thickness": 2.5, "size": 34, "orient": "horizontal"},
"encoding": {"y": {"field": "md", "type": "quantitative"}}},
{"transform": [{"filter": "datum.v != null"}], "mark": {"type": "circle", "color": "#3F3F3F", "size": 14, "opacity": 1},
"encoding": {"y": {"field": "v", "type": "quantitative"}}},
{"transform": [{"filter": "datum.v == null && datum.g == 'BG'"}], "mark": {"type": "text", "align": "left", "baseline": "alphabetic", "dx": 9, "fontSize": 21, "color": "#111111"},
"encoding": {"y": {"datum": 0.832}, "text": {"field": "n"}}}
]
}
},
{
"transform": [{"filter": "indexof(['BTC','CLL','ESO','LIV','OV','PRO','UVM'], datum.c) >= 0"}, {"lookup": "c", "from": {"data": {"name": "names"}, "key": "c", "fields": ["n"]}}],
"facet": {"row": {"field": "n", "type": "nominal", "header": null}},
"spacing": {"row": 13.6},
"spec": {
"width": 470, "height": 153,
"encoding": {"x": {"field": "g", "type": "nominal",
"scale": {"type": "band", "domain": ["BG","S1","S2","S3","S4","S5","S6","S7","S8","S9"], "paddingInner": 0.25, "paddingOuter": 0.245},
"axis": {"title": null, "labelAngle": 0, "labelFontSize": 19, "labelColor": "#000000", "tickColor": "#555555", "tickSize": 6, "tickWidth": 1.5, "domain": false, "grid": true, "gridColor": "#FFFFFF", "gridWidth": 1.5, "labelPadding": 6, "bandPosition": 0.5}}},
"layer": [
{"transform": [{"filter": "datum.v == null"}], "mark": {"type": "rule", "color": "#3F3F3F", "strokeWidth": 1.5},
"encoding": {"y": {"field": "lo", "type": "quantitative", "scale": {"domain": [-0.045, 1.038], "nice": false, "zero": false}, "axis": null},
"y2": {"field": "hi"}}},
{"transform": [{"filter": "datum.v == null"}], "mark": {"type": "bar", "stroke": "#3F3F3F", "strokeWidth": 1.5},
"encoding": {"y": {"field": "q1", "type": "quantitative", "axis": null}, "y2": {"field": "q3"},
"color": {"field": "g", "type": "nominal", "legend": null, "scale": {"domain": ["BG","S1","S2","S3","S4","S5","S6","S7","S8","S9"], "range": ["#E8776C","#D08F2A","#A5A52E","#4CB42E","#2DBA80","#35BCBF","#3AA9F0","#9590FF","#DE6FEA","#F066B8"]}}}},
{"transform": [{"filter": "datum.v == null"}], "mark": {"type": "tick", "color": "#3F3F3F", "thickness": 2.5, "size": 34, "orient": "horizontal"},
"encoding": {"y": {"field": "md", "type": "quantitative", "axis": null}}},
{"transform": [{"filter": "datum.v != null"}], "mark": {"type": "circle", "color": "#3F3F3F", "size": 14, "opacity": 1},
"encoding": {"y": {"field": "v", "type": "quantitative", "axis": null}}},
{"transform": [{"filter": "datum.v == null && datum.g == 'BG'"}], "mark": {"type": "text", "align": "left", "baseline": "alphabetic", "dx": 9, "fontSize": 21, "color": "#111111"},
"encoding": {"y": {"datum": 0.832, "axis": null}, "text": {"field": "n"}}}
]
}
},
{
"transform": [{"filter": "indexof(['BST','CMD','GAS','LUA','PAN','RCC'], datum.c) >= 0"}, {"lookup": "c", "from": {"data": {"name": "names"}, "key": "c", "fields": ["n"]}}],
"facet": {"row": {"field": "n", "type": "nominal", "header": null}},
"spacing": {"row": 13.6},
"spec": {
"width": 470, "height": 153,
"encoding": {"x": {"field": "g", "type": "nominal",
"scale": {"type": "band", "domain": ["BG","S1","S2","S3","S4","S5","S6","S7","S8","S9"], "paddingInner": 0.25, "paddingOuter": 0.245},
"axis": {"title": null, "labelAngle": 0, "labelFontSize": 19, "labelColor": "#000000", "tickColor": "#555555", "tickSize": 6, "tickWidth": 1.5, "domain": false, "grid": true, "gridColor": "#FFFFFF", "gridWidth": 1.5, "labelPadding": 6, "bandPosition": 0.5}}},
"layer": [
{"transform": [{"filter": "datum.v == null"}], "mark": {"type": "rule", "color": "#3F3F3F", "strokeWidth": 1.5},
"encoding": {"y": {"field": "lo", "type": "quantitative", "scale": {"domain": [-0.045, 1.038], "nice": false, "zero": false}, "axis": null},
"y2": {"field": "hi"}}},
{"transform": [{"filter": "datum.v == null"}], "mark": {"type": "bar", "stroke": "#3F3F3F", "strokeWidth": 1.5},
"encoding": {"y": {"field": "q1", "type": "quantitative", "axis": null}, "y2": {"field": "q3"},
"color": {"field": "g", "type": "nominal", "legend": null, "scale": {"domain": ["BG","S1","S2","S3","S4","S5","S6","S7","S8","S9"], "range": ["#E8776C","#D08F2A","#A5A52E","#4CB42E","#2DBA80","#35BCBF","#3AA9F0","#9590FF","#DE6FEA","#F066B8"]}}}},
{"transform": [{"filter": "datum.v == null"}], "mark": {"type": "tick", "color": "#3F3F3F", "thickness": 2.5, "size": 34, "orient": "horizontal"},
"encoding": {"y": {"field": "md", "type": "quantitative", "axis": null}}},
{"transform": [{"filter": "datum.v != null"}], "mark": {"type": "circle", "color": "#3F3F3F", "size": 14, "opacity": 1},
"encoding": {"y": {"field": "v", "type": "quantitative", "axis": null}}},
{"transform": [{"filter": "datum.v == null && datum.g == 'BG'"}], "mark": {"type": "text", "align": "left", "baseline": "alphabetic", "dx": 9, "fontSize": 21, "color": "#111111"},
"encoding": {"y": {"datum": 0.832, "axis": null}, "text": {"field": "n"}}}
]
}
}
]
}
